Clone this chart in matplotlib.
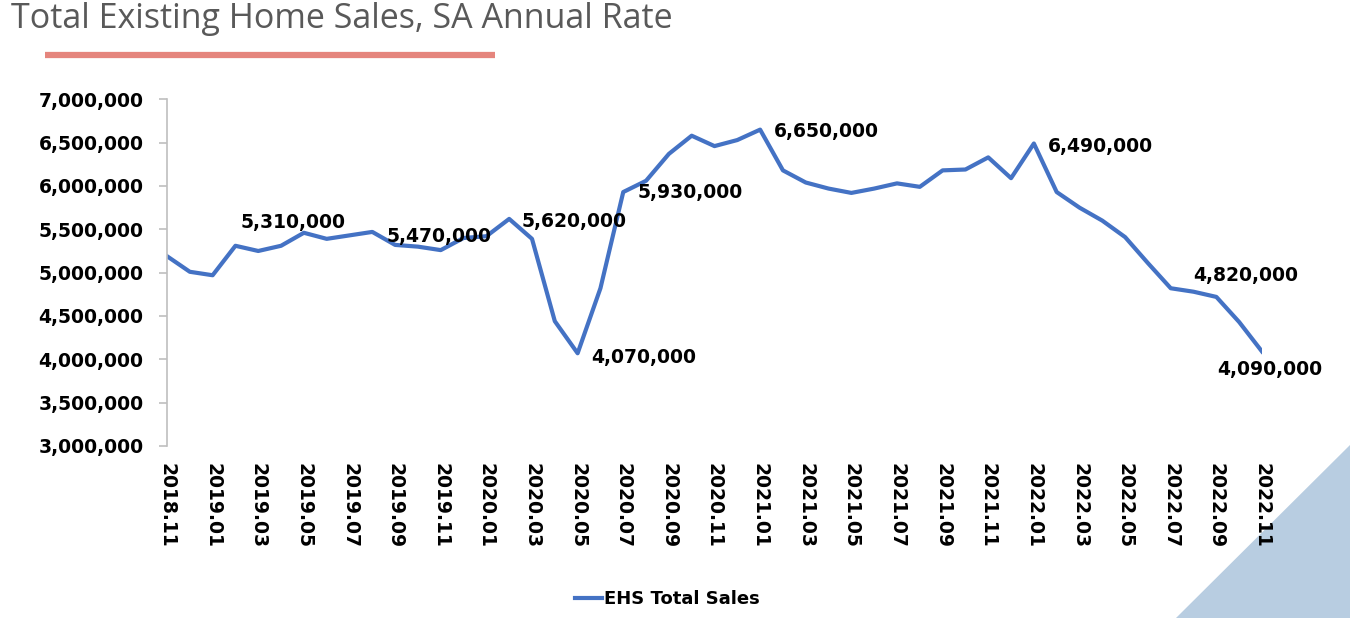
import matplotlib
matplotlib.use("Agg")
import matplotlib.pyplot as plt
from matplotlib.patches import Polygon
from matplotlib.lines import Line2D

# ---- data ----
months = ["2018.11", "2018.12", "2019.01", "2019.02", "2019.03", "2019.04", "2019.05",
          "2019.06", "2019.07", "2019.08", "2019.09", "2019.10", "2019.11", "2019.12",
          "2020.01", "2020.02", "2020.03", "2020.04", "2020.05", "2020.06", "2020.07",
          "2020.08", "2020.09", "2020.10", "2020.11", "2020.12", "2021.01", "2021.02",
          "2021.03", "2021.04", "2021.05", "2021.06", "2021.07", "2021.08", "2021.09",
          "2021.10", "2021.11", "2021.12", "2022.01", "2022.02", "2022.03", "2022.04",
          "2022.05", "2022.06", "2022.07", "2022.08", "2022.09", "2022.10", "2022.11"]
sales = [5190000, 5010000, 4970000, 5310000, 5250000, 5310000, 5460000,
         5390000, 5430000, 5470000, 5320000, 5300000, 5260000, 5400000,
         5420000, 5620000, 5390000, 4440000, 4070000, 4820000, 5930000,
         6060000, 6370000, 6580000, 6460000, 6530000, 6650000, 6180000,
         6040000, 5970000, 5920000, 5970000, 6030000, 5990000, 6180000,
         6190000, 6330000, 6090000, 6490000, 5930000, 5750000, 5600000,
         5410000, 5110000, 4820000, 4780000, 4720000, 4430000, 4090000]
labelled_idx = [3, 9, 15, 18, 20, 26, 38, 44, 48]
label_offsets = [(4, 10), (10, -10), (9, -9), (10, -10), (10, -7), (10, -8), (10, -9), (16, 2), (-32, -20)]
series_name = "EHS Total Sales"
title_text = "Total Existing Home Sales, SA Annual Rate"
yticks = [3000000, 3500000, 4000000, 4500000, 5000000, 5500000, 6000000, 6500000, 7000000]

W, H = 1362, 634
fig = plt.figure(figsize=(W / 100, H / 100), dpi=100)
fig.patch.set_facecolor("white")

def fx(px):
    return px / W

def fy(py):
    return 1 - py / H

ax = fig.add_axes([fx(167), fy(446), fx(1262) - fx(167), fy(99.3) - fy(446)])
x = list(range(len(months)))
line, = ax.plot(x, sales, color="#4472C4", lw=3.0, solid_joinstyle="round")
ax.set_xlim(0, len(months) - 1)
ax.set_ylim(3000000, 7000000)
ax.set_yticks(yticks)
ax.set_yticklabels([f"{v:,}" for v in yticks], fontsize=13.5, fontweight="bold")
ax.set_xticks(x[::2])
ax.set_xticklabels(months[::2], rotation=-90, fontsize=13.5, fontweight="bold",
                   va="top", ha="center")
for s in ["top", "right", "bottom"]:
    ax.spines[s].set_visible(False)
ax.spines["left"].set_color("#bfbfbf")
ax.spines["left"].set_linewidth(1.2)
ax.tick_params(axis="y", length=6, color="#bfbfbf", width=1.2, pad=11)
ax.tick_params(axis="x", length=0, pad=12)
ax.patch.set_alpha(0)

for i, (dx, dy) in zip(labelled_idx, label_offsets):
    ax.annotate(f"{sales[i]:,}", (x[i], sales[i]), xytext=(dx, dy),
                textcoords="offset points", fontsize=13.5, fontweight="bold",
                ha="left", va="bottom", color="black")

# legend
fig.legend([Line2D([0], [0], color="#4472C4", lw=3)], [series_name],
           loc="center", bbox_to_anchor=(fx(667), fy(599)), frameon=False,
           prop={"size": 13, "weight": "bold"}, handlelength=1.5, handletextpad=0.1)

# title and underline
fig.text(fx(11), fy(19), title_text, fontsize=24.5, color="#595959",
         family="Open Sans", va="center", ha="left")
fig.add_artist(Line2D([fx(45), fx(495)], [fy(55), fy(55)], color="#E5857D",
                      lw=4.5, solid_capstyle="butt"))

# decorative triangle
tri = Polygon([(fx(1176), fy(618)), (fx(1350), fy(618)), (fx(1350), fy(445))],
              closed=True, facecolor="#B8CDE1", edgecolor="none", zorder=0,
              transform=fig.transFigure)
fig.add_artist(tri)

fig.savefig("out.png", dpi=100, facecolor="white")
